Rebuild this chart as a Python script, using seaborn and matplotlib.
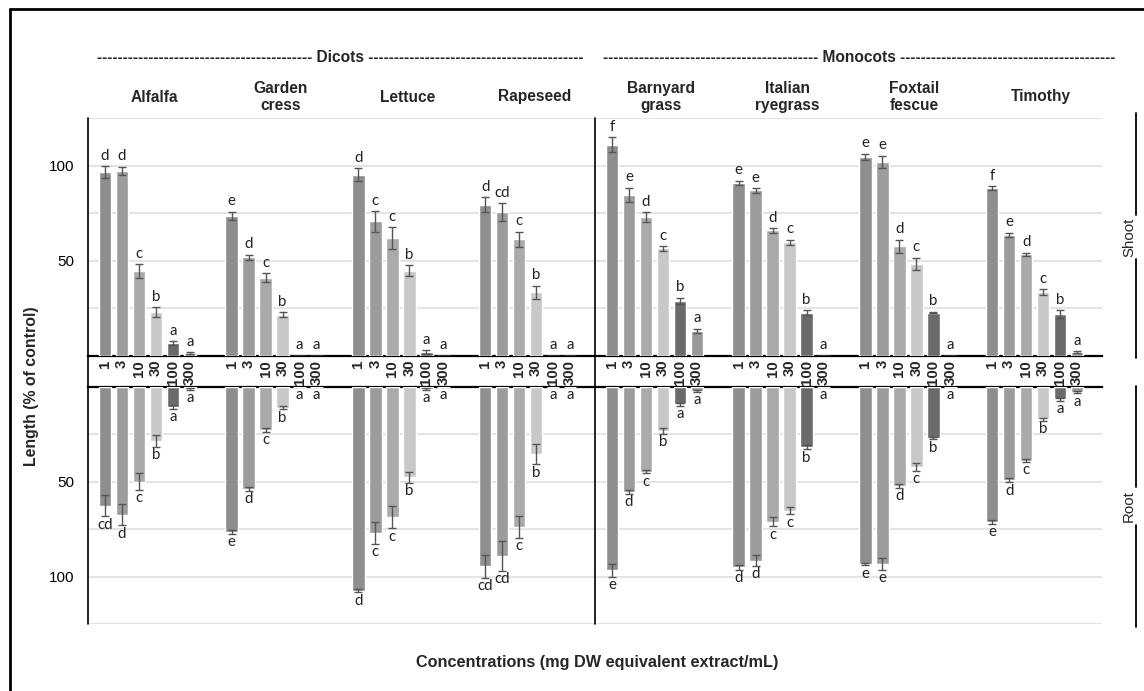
import numpy as np
import pandas as pd
import matplotlib
matplotlib.use("Agg")
import matplotlib.pyplot as plt
import matplotlib.transforms as mtransforms
from matplotlib.lines import Line2D
import seaborn as sns

# ---------------- data ----------------
species = ["Alfalfa", "Garden\ncress", "Lettuce", "Rapeseed",
           "Barnyard\ngrass", "Italian\nryegrass", "Foxtail\nfescue", "Timothy"]
concentrations = ["1", "3", "10", "30", "100", "300"]

shoot_mean = [
    [96.7, 97.2, 44.5, 22.8, 6.7, 1.2],
    [73.6, 51.7, 41.1, 21.6, 0.0, 0.0],
    [95.1, 70.7, 61.9, 44.8, 1.8, 0.0],
    [79.4, 75.4, 61.3, 33.4, 0.0, 0.0],
    [110.9, 84.7, 72.8, 56.4, 29.0, 13.2],
    [91.0, 87.0, 65.9, 59.6, 22.7, 0.0],
    [104.4, 101.9, 57.5, 48.3, 22.7, 0.0],
    [88.0, 63.6, 53.4, 33.4, 21.8, 1.9],
]
shoot_err = [
    [3.0, 2.2, 3.7, 2.6, 1.0, 0.5],
    [2.0, 1.5, 2.2, 1.2, 0.0, 0.0],
    [3.4, 5.4, 5.7, 2.8, 1.0, 0.0],
    [4.0, 4.7, 4.0, 3.5, 0.0, 0.0],
    [3.9, 3.7, 2.6, 1.2, 1.6, 1.0],
    [1.0, 1.2, 1.2, 1.5, 1.2, 0.0],
    [1.7, 3.2, 3.5, 3.3, 0.5, 0.0],
    [1.0, 1.0, 0.8, 1.5, 2.0, 0.5],
]
shoot_letters = [
    ["d", "d", "c", "b", "a", "a"],
    ["e", "d", "c", "b", "a", "a"],
    ["d", "c", "c", "b", "a", "a"],
    ["d", "cd", "c", "b", "a", "a"],
    ["f", "e", "d", "c", "b", "a"],
    ["e", "e", "d", "c", "b", "a"],
    ["e", "e", "d", "c", "b", "a"],
    ["f", "e", "d", "c", "b", "a"],
]
root_mean = [
    [62.8, 67.5, 50.0, 28.6, 10.5, 1.2],
    [76.5, 53.9, 22.8, 11.1, 0.0, 0.0],
    [107.4, 77.0, 68.8, 47.7, 1.2, 0.0],
    [94.7, 89.1, 73.9, 35.6, 0.0, 0.0],
    [96.8, 55.4, 44.7, 23.2, 9.3, 2.1],
    [95.1, 91.6, 71.1, 65.3, 31.9, 0.0],
    [93.5, 93.2, 52.1, 42.3, 27.2, 0.0],
    [71.1, 49.3, 38.9, 17.2, 6.7, 3.0],
]
root_err = [
    [5.5, 5.5, 4.3, 3.0, 1.0, 0.5],
    [1.0, 1.0, 0.8, 0.8, 0.0, 0.0],
    [1.0, 5.6, 5.8, 2.8, 0.5, 0.0],
    [6.1, 7.8, 5.6, 5.2, 0.0, 0.0],
    [3.2, 1.0, 1.0, 1.6, 0.8, 0.5],
    [1.3, 2.8, 2.5, 2.0, 1.0, 0.0],
    [0.6, 3.2, 1.0, 1.9, 0.6, 0.0],
    [1.0, 1.0, 0.8, 0.8, 0.8, 0.5],
]
root_letters = [
    ["cd", "d", "c", "b", "a", "a"],
    ["e", "d", "c", "b", "a", "a"],
    ["d", "c", "c", "b", "a", "a"],
    ["cd", "cd", "c", "b", "a", "a"],
    ["e", "d", "c", "b", "a", "a"],
    ["d", "d", "c", "c", "b", "a"],
    ["e", "e", "d", "c", "b", "a"],
    ["e", "d", "c", "b", "a", "a"],
]
group_titles = ["Dicots", "Monocots"]

# ---------------- style ----------------
sns.set_style("white")
plt.rcParams["font.family"] = ["Liberation Sans", "DejaVu Sans"]
bar_colors = ["#8e8e8e", "#9c9c9c", "#aaaaaa", "#c8c8c8", "#6a6a6a", "#999999"]
LETTER_FONT = ["Lato", "DejaVu Sans"]

W, H = 1144, 691
fig = plt.figure(figsize=(W / 100, H / 100), dpi=100)
fig.patch.set_facecolor("white")


def fx(px):
    return px / W


def fy(py):
    return 1 - py / H


X0, X1 = 88, 1102
ax_s = fig.add_axes([fx(X0), fy(355.7), fx(X1) - fx(X0), fy(118) - fy(355.7)])
ax_r = fig.add_axes([fx(X0), fy(624), fx(X1) - fx(X0), fy(386.7) - fy(624)])

G = 7.47  # group width in bar slots


def build(means, errs, letters):
    rows = []
    for g, sp in enumerate(species):
        for i, c in enumerate(concentrations):
            rows.append(dict(species=sp, conc=c, pos=g * G + 1 + i,
                             val=means[g][i], err=errs[g][i], letter=letters[g][i]))
    return pd.DataFrame(rows)


df_s = build(shoot_mean, shoot_err, shoot_letters)
df_r = build(root_mean, root_err, root_letters)

for ax, df, is_root in [(ax_s, df_s, False), (ax_r, df_r, True)]:
    sns.barplot(data=df, x="pos", y="val", hue="conc", hue_order=concentrations,
                palette=bar_colors, native_scale=True, dodge=False, width=0.74,
                errorbar=None, legend=False, saturation=1, ax=ax, zorder=3)
    m = df["err"] > 0
    ax.errorbar(df.loc[m, "pos"], df.loc[m, "val"], yerr=df.loc[m, "err"], fmt="none",
                ecolor="#555555", elinewidth=1.0, capsize=2.8, capthick=1.0, zorder=4)
    for _, r in df.iterrows():
        top = r["val"] + r["err"]
        if is_root:
            ax.annotate(r["letter"], (r["pos"], top), xytext=(0, -1),
                        textcoords="offset points", ha="center", va="top",
                        fontsize=10.8, family=LETTER_FONT, color="#222222")
        else:
            ax.annotate(r["letter"], (r["pos"], top), xytext=(0, 2.5),
                        textcoords="offset points", ha="center", va="bottom",
                        fontsize=10.8, family=LETTER_FONT, color="#222222")
    ax.set_xlim(0, 8 * G)
    ax.set_yticks([0, 25, 50, 75, 100, 125])
    ax.set_yticklabels(["", "", "50", "", "100", ""])
    ax.yaxis.grid(True, color="#e4e4e4", linewidth=1.5, zorder=0)
    ax.xaxis.grid(False)
    ax.set_axisbelow(True)
    ax.tick_params(axis="y", length=0, pad=10, labelsize=11, labelcolor="black")
    ax.set_xlabel("")
    ax.set_ylabel("")
    for s in ax.spines.values():
        s.set_visible(False)

ax_s.set_ylim(0, 125)
ax_r.set_ylim(125, 0)

ax_s.spines["bottom"].set_visible(True)
ax_s.spines["bottom"].set_color("black")
ax_s.spines["bottom"].set_linewidth(1.6)
ax_r.spines["top"].set_visible(True)
ax_r.spines["top"].set_color("black")
ax_r.spines["top"].set_linewidth(1.6)

ax_s.set_xticks(df_s["pos"])
ax_s.set_xticklabels(df_s["conc"], rotation=90, fontweight="bold", fontsize=10.8)
ax_s.tick_params(axis="x", length=0, pad=3)
ax_r.set_xticks([])

# continuous left axis line and dicot/monocot divider
xdiv = X0 + (4 * G) / (8 * G) * (X1 - X0)
for xp in (X0, xdiv):
    fig.add_artist(Line2D([fx(xp), fx(xp)], [fy(118), fy(624)],
                          transform=fig.transFigure, color="black", lw=1.2))

# species headers
tr = mtransforms.blended_transform_factory(ax_s.transData, fig.transFigure)
for g, sp in enumerate(species):
    ax_s.text(g * G + G / 2 + 0.15, fy(97), sp, transform=tr, ha="center", va="center",
              fontsize=11.2, fontweight="bold", linespacing=1.15)

# Dicots / Monocots header lines made of hyphens
renderer = fig.canvas.get_renderer()
for title, (a, b) in zip(group_titles, [(98, 582), (608, 1111)]):
    target = b - a
    n = 10
    t = fig.text(fx((a + b) / 2), fy(58), "", ha="center", va="center",
                 fontsize=11.2, fontweight="bold")
    while True:
        t.set_text("-" * n + " " + title + " " + "-" * n)
        if t.get_window_extent(renderer=renderer).width >= target:
            break
        n += 1

# Shoot / Root side brackets
for label, (y0, y1, yc) in [("Shoot", (113, 358, 237)), ("Root", (386, 627, 506))]:
    half = 18 if label == "Shoot" else 15
    fig.add_artist(Line2D([fx(1136)] * 2, [fy(y0), fy(yc - half - 4)],
                          transform=fig.transFigure, color="black", lw=1.3))
    fig.add_artist(Line2D([fx(1136)] * 2, [fy(yc + half + 4), fy(y1)],
                          transform=fig.transFigure, color="black", lw=1.3))
    fig.text(fx(1129), fy(yc), label, rotation=90, ha="center", va="center",
             fontsize=10.8)

# axis titles
fig.text(fx(32), fy(386), "Length (% of control)", rotation=90, ha="center",
         va="center", fontsize=11.4, fontweight="bold")
fig.text(fx(597), fy(662), "Concentrations (mg DW equivalent extract/mL)",
         ha="center", va="center", fontsize=11.7, fontweight="bold")

# outer frame (top and left edges visible)
fig.add_artist(Line2D([fx(10), fx(1144)], [fy(9), fy(9)], transform=fig.transFigure,
                      color="black", lw=2))
fig.add_artist(Line2D([fx(10), fx(10)], [fy(9), fy(691)], transform=fig.transFigure,
                      color="black", lw=2))

fig.savefig("out.png", dpi=100, facecolor="white")
